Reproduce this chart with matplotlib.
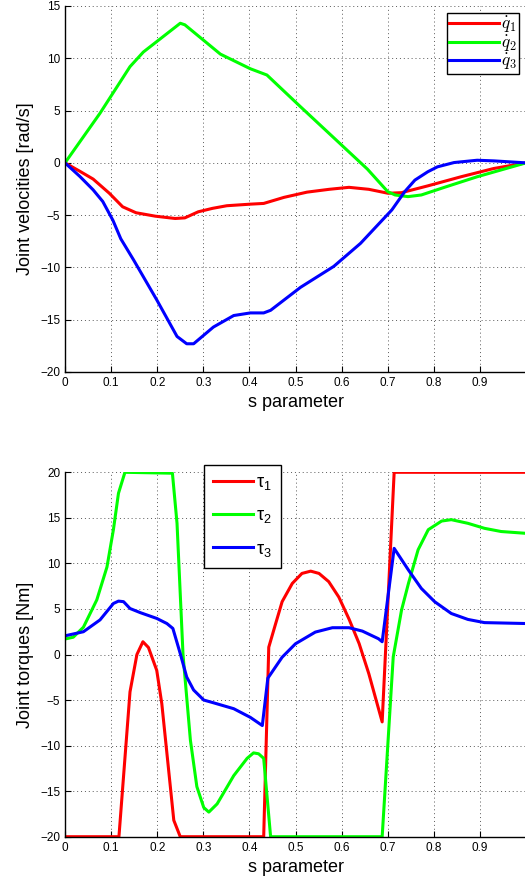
import matplotlib
matplotlib.use("Agg")
import matplotlib.pyplot as plt
import numpy as np

plt.rcParams['font.family'] = ['Liberation Sans', 'DejaVu Sans']
plt.rcParams['mathtext.fontset'] = 'cm'

# ---- Joint velocities ----
q1_s = [0, 0.032, 0.061, 0.096, 0.125, 0.154, 0.196, 0.239, 0.26, 0.289, 0.32, 0.351, 0.402, 0.431, 0.475, 0.525, 0.573, 0.616, 0.659, 0.701, 0.73, 0.787, 0.859, 0.93, 1.0]
q1_v = [0, -0.8, -1.55, -2.9, -4.2, -4.77, -5.1, -5.32, -5.26, -4.68, -4.35, -4.1, -3.95, -3.88, -3.3, -2.8, -2.53, -2.34, -2.53, -2.91, -2.85, -2.2, -1.33, -0.54, 0]

q2_s = [0, 0.076, 0.141, 0.17, 0.25, 0.26, 0.293, 0.337, 0.402, 0.438, 0.51, 0.583, 0.656, 0.7, 0.716, 0.744, 0.773, 0.823, 0.894, 1.0]
q2_v = [0, 4.75, 9.2, 10.6, 13.35, 13.2, 12.0, 10.4, 9.0, 8.4, 5.4, 2.4, -0.6, -2.75, -3.07, -3.23, -3.07, -2.34, -1.33, 0]

q3_s = [0, 0.032, 0.061, 0.082, 0.104, 0.121, 0.149, 0.199, 0.243, 0.264, 0.279, 0.322, 0.366, 0.402, 0.431, 0.446, 0.511, 0.583, 0.641, 0.709, 0.737, 0.759, 0.787, 0.808, 0.844, 0.894, 0.93, 1.0]
q3_v = [0, -1.29, -2.58, -3.7, -5.5, -7.26, -9.3, -13.1, -16.6, -17.3, -17.3, -15.7, -14.6, -14.35, -14.35, -14.1, -11.9, -9.9, -7.7, -4.5, -2.75, -1.65, -0.85, -0.38, 0.03, 0.25, 0.19, 0]

# ---- Joint torques ----
t1_s = [0, 0.117, 0.141, 0.156, 0.169, 0.181, 0.199, 0.21, 0.236, 0.25, 0.431, 0.442, 0.457, 0.471, 0.493, 0.514, 0.533, 0.551, 0.572, 0.594, 0.616, 0.638, 0.659, 0.688, 0.714, 1.0]
t1_v = [-20, -20, -4.1, 0, 1.4, 0.77, -1.74, -5.4, -18.2, -20, -20, 0.8, 3.4, 5.8, 7.8, 8.9, 9.15, 8.9, 8.0, 6.3, 3.9, 1.2, -2.1, -7.4, 20, 20]

t2_s = [0, 0.018, 0.04, 0.069, 0.091, 0.105, 0.116, 0.13, 0.233, 0.243, 0.256, 0.272, 0.286, 0.301, 0.312, 0.33, 0.366, 0.395, 0.409, 0.42, 0.431, 0.446, 0.688, 0.712, 0.730, 0.745, 0.766, 0.788, 0.817, 0.838, 0.874, 0.91, 0.946, 1.0]
t2_v = [1.7, 1.9, 3.0, 6.0, 9.6, 13.7, 17.7, 20, 19.9, 14.4, 0, -9.4, -14.5, -16.8, -17.3, -16.4, -13.3, -11.4, -10.8, -10.9, -11.4, -20, -20, -0.26, 4.87, 7.8, 11.5, 13.7, 14.65, 14.8, 14.4, 13.85, 13.5, 13.3]

t3_s = [0, 0.04, 0.076, 0.105, 0.116, 0.127, 0.141, 0.163, 0.199, 0.221, 0.234, 0.25, 0.264, 0.279, 0.301, 0.322, 0.366, 0.402, 0.428, 0.44, 0.471, 0.5, 0.543, 0.58, 0.616, 0.645, 0.68, 0.688, 0.714, 0.745, 0.773, 0.802, 0.838, 0.874, 0.91, 1.0]
t3_v = [2.05, 2.5, 3.8, 5.6, 5.86, 5.8, 5.05, 4.6, 3.96, 3.4, 2.86, 0.1, -2.47, -3.9, -5.0, -5.3, -5.95, -6.9, -7.8, -2.6, -0.3, 1.18, 2.46, 2.94, 2.94, 2.57, 1.73, 1.4, 11.65, 9.27, 7.25, 5.79, 4.5, 3.85, 3.5, 3.4]

xticks = [0, 0.1, 0.2, 0.3, 0.4, 0.5, 0.6, 0.7, 0.8, 0.9]
xtick_labels = ['0', '0.1', '0.2', '0.3', '0.4', '0.5', '0.6', '0.7', '0.8', '0.9']
vel_ticks = [-20, -15, -10, -5, 0, 5, 10, 15]
tor_ticks = [-20, -15, -10, -5, 0, 5, 10, 15, 20]

W, H = 525, 884
fig = plt.figure(figsize=(W / 100, H / 100), dpi=100)

left = 65 / W
width = 461 / W
ax1 = fig.add_axes([left, 1 - 372 / H, width, (372 - 6) / H])
ax2 = fig.add_axes([left, 1 - 836.7 / H, width, (836.7 - 472.3) / H])

lw = 2.2
ax1.plot(q1_s, q1_v, color='#ff0000', lw=lw, label=r'$\dot{q}_1$')
ax1.plot(q2_s, q2_v, color='#00ff00', lw=lw, label=r'$\dot{q}_2$')
ax1.plot(q3_s, q3_v, color='#0000ff', lw=lw, label=r'$\dot{q}_3$')

ax2.plot(t1_s, t1_v, color='#ff0000', lw=lw, label=r'$\mathregular{\tau_1}$')
ax2.plot(t2_s, t2_v, color='#00ff00', lw=lw, label=r'$\mathregular{\tau_2}$')
ax2.plot(t3_s, t3_v, color='#0000ff', lw=lw, label=r'$\mathregular{\tau_3}$')

for ax, yt, ylim, ylabel in [(ax1, vel_ticks, (-20, 15), 'Joint velocities [rad/s]'),
                             (ax2, tor_ticks, (-20, 20), 'Joint torques [Nm]')]:
    ax.set_xlim(0, 1)
    ax.set_ylim(*ylim)
    ax.set_xticks(xticks)
    ax.set_xticklabels(xtick_labels)
    ax.set_yticks(yt)
    ax.grid(True, linestyle=(0, (1, 3)), color='0.35', linewidth=0.7)
    ax.tick_params(direction='in', length=4, labelsize=8.5, width=0.8)
    ax.spines['top'].set_visible(False)
    ax.spines['right'].set_visible(False)
    for s in ('left', 'bottom'):
        ax.spines[s].set_linewidth(1.0)
    ax.set_xlabel('s parameter', fontsize=13, labelpad=4)
    ax.set_ylabel(ylabel, fontsize=13, labelpad=4)

leg1 = ax1.legend(loc='upper right', bbox_to_anchor=(519 / W, 1 - 13 / H),
                  bbox_transform=fig.transFigure, borderaxespad=0,
                  fontsize=12.5, handlelength=2.9, handletextpad=0.1,
                  labelspacing=-0.1, borderpad=0.12,
                  fancybox=False, framealpha=1, edgecolor='black')
leg1.get_frame().set_linewidth(1.0)

plt.rcParams['mathtext.fontset'] = 'dejavusans'
leg2 = ax2.legend(loc='upper left', bbox_to_anchor=(204 / W, 1 - 465 / H),
                  bbox_transform=fig.transFigure, borderaxespad=0,
                  fontsize=13, handlelength=2.2, handletextpad=0.2,
                  labelspacing=0.85, borderpad=0.5,
                  fancybox=False, framealpha=1, edgecolor='black')
leg2.get_frame().set_linewidth(1.0)

fig.savefig('out.png', dpi=100)
